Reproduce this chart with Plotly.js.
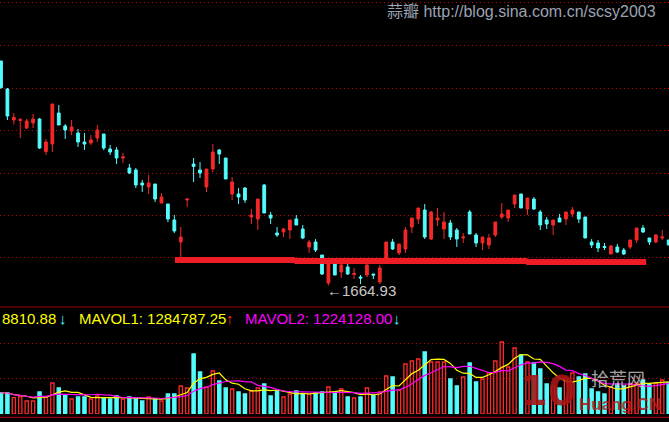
<!DOCTYPE html>
<html>
<head>
<meta charset="utf-8">
<script src="https://cdn.plot.ly/plotly-3.0.1.min.js"></script>
<style>
html,body{margin:0;padding:0;background:#000;}
#chart{width:669px;height:422px;}
</style>
</head>
<body>
<div id="chart"></div>
<script>
// ---- data ----
var bars = [];
for (var k = 0; k < 105; k++) bars.push(k);

var openP  = [2114,2058,1996,1995,1980,1990,1998,1933,1948,2010,1984,1974,1970,1952,1950,1960,1968,1938,1936,1920,1900,1896,1870,1862,1868,1830,1828,1796,1752,1836,1908,1896,1862,1898,1936,1920,1848,1848,1860,1802,1798,1866,1806,1770,1772,1776,1798,1778,1742,1752,1726,1670,1712,1692,1702,1687,1682,1686,1688,1672,1714,1752,1730,1738,1782,1798,1816,1758,1796,1778,1790,1776,1760,1812,1766,1750,1746,1766,1802,1800,1828,1848,1818,1838,1812,1796,1786,1800,1798,1808,1812,1802,1752,1750,1743,1728,1742,1736,1742,1756,1780,1760,1752,1760,1756];
var highP  = [2114,2060,2010,2000,1998,2008,2000,1958,2028,2026,1988,1996,1978,1970,1966,1986,1968,1946,1942,1930,1908,1900,1876,1886,1868,1850,1828,1806,1782,1838,1920,1912,1898,1948,1938,1920,1882,1860,1862,1818,1838,1868,1812,1782,1780,1796,1806,1786,1756,1758,1726,1710,1720,1710,1708,1700,1686,1710,1688,1706,1752,1758,1748,1782,1800,1820,1828,1814,1820,1812,1796,1780,1770,1816,1770,1762,1768,1792,1830,1816,1846,1848,1840,1842,1816,1802,1796,1808,1812,1822,1812,1802,1758,1756,1750,1746,1748,1740,1756,1780,1786,1760,1768,1776,1756];
var lowP   = [2058,1996,1987,1960,1978,1980,1938,1926,1932,1986,1958,1966,1942,1936,1946,1952,1936,1926,1908,1910,1888,1860,1852,1848,1832,1830,1792,1770,1720,1822,1872,1880,1852,1892,1908,1878,1836,1828,1830,1788,1776,1810,1788,1762,1762,1758,1786,1758,1730,1732,1686,1664.93,1686,1680,1686,1678,1668,1682,1678,1668,1712,1736,1726,1730,1770,1788,1758,1756,1784,1758,1756,1742,1750,1768,1742,1736,1738,1762,1798,1792,1820,1820,1806,1816,1776,1778,1766,1792,1786,1802,1790,1760,1740,1732,1736,1728,1730,1726,1738,1750,1770,1746,1750,1756,1746];
var closeP = [2061,2004,2001,1997,1994,1998,1940,1952,2028,1986,1976,1982,1952,1948,1956,1976,1940,1932,1920,1922,1890,1866,1866,1870,1838,1842,1798,1774,1762,1838,1903,1890,1898,1932,1928,1878,1872,1842,1836,1806,1838,1810,1800,1766,1778,1796,1786,1760,1752,1736,1688,1710,1686,1706,1688,1689,1680,1706,1686,1700,1752,1738,1748,1776,1800,1820,1762,1812,1800,1792,1762,1758,1762,1768,1750,1762,1760,1792,1808,1816,1846,1820,1840,1818,1786,1788,1796,1792,1812,1816,1798,1760,1746,1740,1741,1744,1732,1728,1756,1780,1772,1752,1766,1762,1746];
var volume = [840000,840000,652000,692000,520000,520000,880000,692000,1240000,1040000,760000,600000,680000,680000,600000,720000,640000,600000,720000,600000,680000,640000,520000,680000,600000,520000,800000,800000,1120000,1040000,2400000,1680000,1080000,1720000,1320000,1040000,1000000,880000,800000,920000,1040000,1200000,720000,920000,680000,800000,920000,800000,800000,840000,880000,1080000,880000,1000000,680000,640000,680000,1040000,760000,880000,1520000,1480000,960000,2000000,2120000,2200000,2480000,2080000,2080000,2080000,1400000,1120000,1480000,2040000,1280000,1400000,1640000,2120000,2880000,1880000,2640000,2360000,2080000,2040000,1800000,1200000,1120000,1040000,1400000,1640000,1480000,1600000,1000000,880000,800000,1080000,1200000,1120000,1200000,1240000,1360000,1200000,1240000,1360000,1268810.88];

// support line segments drawn on the chart: [from bar, to bar, level]
var supportFrom  = [27.1, 45.7, 81.8];
var supportTo    = [45.8, 82.0, 100.5];
var supportLevel = [1716, 1714, 1712];

var lowLabel = "←1664.93";
var headerVol = "8810.88";
var headerMa1 = "MAVOL1: 1284787.25";
var headerMa2 = "MAVOL2: 1224128.00";
var dateMarks = [2.3, 17.9];

// ---- derived ----
var RED = '#f52828', CYAN = '#54fcfc';
function ma(arr, n){
  var out = [];
  for (var i = 0; i < arr.length; i++){
    var s = 0, c = 0;
    for (var j = Math.max(0, i-n+1); j <= i; j++){ s += arr[j]; c++; }
    out.push(s/c);
  }
  return out;
}
var ma5 = ma(volume, 5), ma10 = ma(volume, 10);
var up = closeP.map(function(c,i){ return c >= openP[i]; });

var W = 669, H = 422;
function px(x){ return x / W; }
function py(y){ return (H - y) / H; }

var traces = [
  {
    type: 'candlestick', x: bars, open: openP, high: highP, low: lowP, close: closeP,
    xaxis: 'x', yaxis: 'y', whiskerwidth: 0, hoverinfo: 'skip',
    increasing: {line: {color: RED, width: 1}, fillcolor: RED},
    decreasing: {line: {color: CYAN, width: 1}, fillcolor: CYAN},
    showlegend: false
  },
  {
    type: 'bar', x: bars, y: volume, xaxis: 'x', yaxis: 'y2', width: 0.5,
    marker: {
      color: up.map(function(u){ return u ? 'rgba(0,0,0,0)' : CYAN; }),
      line: {color: up.map(function(u){ return u ? '#ff2a2a' : CYAN; }), width: 1.3}
    },
    hoverinfo: 'skip', showlegend: false
  },
  {
    type: 'scatter', mode: 'lines', x: bars, y: ma5, xaxis: 'x', yaxis: 'y2',
    line: {color: '#ffff00', width: 1.2}, hoverinfo: 'skip', showlegend: false
  },
  {
    type: 'scatter', mode: 'lines', x: bars, y: ma10, xaxis: 'x', yaxis: 'y2',
    line: {color: '#ff00ff', width: 1.2}, hoverinfo: 'skip', showlegend: false
  },
  {
    type: 'scatter', mode: 'markers', x: dateMarks, y: dateMarks.map(function(){ return -240000; }),
    xaxis: 'x', yaxis: 'y2', cliponaxis: false,
    marker: {symbol: 'square', size: 4, color: RED}, hoverinfo: 'skip', showlegend: false
  }
];

var shapes = [];
for (var s = 0; s < supportFrom.length; s++){
  shapes.push({type: 'line', xref: 'x', yref: 'y', x0: supportFrom[s], x1: supportTo[s],
    y0: supportLevel[s], y1: supportLevel[s], line: {color: '#ee1c24', width: 6}});
}
shapes.push({type: 'line', xref: 'paper', yref: 'paper', x0: 0, x1: 1, y0: py(307), y1: py(307),
  line: {color: '#9a0000', width: 1}});
shapes.push({type: 'line', xref: 'paper', yref: 'paper', x0: 0, x1: 1, y0: py(417.3), y1: py(417.3),
  line: {color: '#c00000', width: 1}});

var hdrFont = {family: 'Arial, Liberation Sans, sans-serif', size: 15};
var annotations = [
  {xref: 'paper', yref: 'paper', x: px(385), y: py(1), xanchor: 'left', yanchor: 'top',
   text: '蒜瓣 http://blog.sina.com.cn/scsy2003', showarrow: false,
   font: {family: 'Arial, Liberation Sans, Noto Sans CJK SC, sans-serif', size: 16, color: '#9ba3b3'}},
  {xref: 'x', yref: 'y', x: 51, y: 1664.93, xanchor: 'left', yanchor: 'top', xshift: -3, yshift: 6,
   text: lowLabel, showarrow: false,
   font: {family: 'Arial, Liberation Sans, sans-serif', size: 15, color: '#c8c8c8'}},
  {xref: 'paper', yref: 'paper', x: px(0), y: py(318), xanchor: 'left', yanchor: 'middle',
   text: headerVol, showarrow: false, font: Object.assign({}, hdrFont, {color: '#ffff00'})},
  {xref: 'paper', yref: 'paper', x: px(57), y: py(318), xanchor: 'left', yanchor: 'middle',
   text: '↓', showarrow: false, font: Object.assign({}, hdrFont, {color: CYAN})},
  {xref: 'paper', yref: 'paper', x: px(77), y: py(318), xanchor: 'left', yanchor: 'middle',
   text: headerMa1, showarrow: false, font: Object.assign({}, hdrFont, {color: '#ffff00'})},
  {xref: 'paper', yref: 'paper', x: px(224), y: py(318), xanchor: 'left', yanchor: 'middle',
   text: '↑', showarrow: false, font: Object.assign({}, hdrFont, {color: RED})},
  {xref: 'paper', yref: 'paper', x: px(243), y: py(318), xanchor: 'left', yanchor: 'middle',
   text: headerMa2, showarrow: false, font: Object.assign({}, hdrFont, {color: '#ff00ff'})},
  {xref: 'paper', yref: 'paper', x: px(391), y: py(318), xanchor: 'left', yanchor: 'middle',
   text: '↓', showarrow: false, font: Object.assign({}, hdrFont, {color: CYAN})},
  // watermark
  {xref: 'paper', yref: 'paper', x: px(548), y: py(391), xanchor: 'center', yanchor: 'middle',
   text: '<b>10</b>', showarrow: false, opacity: 0.9,
   font: {family: 'DejaVu Sans, Arial, sans-serif', size: 40, color: '#a81616'}},
  {xref: 'paper', yref: 'paper', x: px(618), y: py(378), xanchor: 'center', yanchor: 'middle',
   text: '拾荒网', showarrow: false, opacity: 0.75,
   font: {family: 'Noto Sans CJK SC, sans-serif', size: 18, color: '#d8d8d8'}},
  {xref: 'paper', yref: 'paper', x: px(577), y: py(404), xanchor: 'left', yanchor: 'middle',
   text: '<b>Huang.CN</b>', showarrow: false, opacity: 0.85,
   font: {family: 'Arial, Liberation Sans, sans-serif', size: 17, color: '#b81c1c'}}
];

var layout = {
  width: W, height: H, margin: {l: 0, r: 0, t: 0, b: 0, pad: 0},
  paper_bgcolor: '#000', plot_bgcolor: '#000',
  showlegend: false, boxgap: 0.38, bargap: 0,
  xaxis: {range: [-0.156, 104.05], showgrid: false, zeroline: false, showticklabels: false,
          ticks: '', showline: false, fixedrange: true, rangeslider: {visible: false}},
  yaxis: {domain: [py(307), 1], range: [1622, 2236], tickvals: [1721, 1805, 1890, 1975, 2060, 2146, 2231],
          showticklabels: false, ticks: '', zeroline: false, showline: false,
          gridcolor: '#c80000', griddash: '1px,3px', gridwidth: 1, fixedrange: true},
  yaxis2: {domain: [py(414), py(310)], range: [0, 4160000], tickvals: [1428000, 2828000],
           showticklabels: false, ticks: '', zeroline: false, showline: false,
           gridcolor: '#c80000', griddash: '1px,3px', gridwidth: 1, fixedrange: true},
  shapes: shapes,
  annotations: annotations
};

Plotly.newPlot('chart', traces, layout, {staticPlot: true, displayModeBar: false});
</script>
</body>
</html>
